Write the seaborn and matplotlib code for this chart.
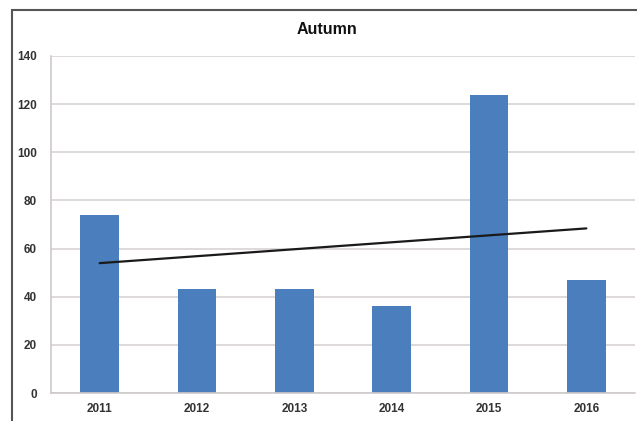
import numpy as np
import matplotlib
matplotlib.use("Agg")
import matplotlib.pyplot as plt
import seaborn as sns
import pandas as pd
from matplotlib.patches import Rectangle
from matplotlib.ticker import FixedLocator

years = ["2011", "2012", "2013", "2014", "2015", "2016"]
autumn = [74, 43, 43, 36, 124, 47]
y_ticks = [0, 20, 40, 60, 80, 100, 120, 140]

sns.set_style("white")
plt.rcParams['font.family'] = ['Liberation Sans', 'DejaVu Sans']

df = pd.DataFrame({"year": years, "value": autumn})

fig = plt.figure(figsize=(6.37, 4.21), dpi=100)
ax = fig.add_axes([51 / 637, 1 - 393 / 421, 584 / 637, 337 / 421])

sns.barplot(data=df, x="year", y="value", color="#4A7EBD", width=0.4,
            saturation=1, linewidth=0, ax=ax, zorder=2)

# linear trend line
pos = np.arange(len(autumn))
slope, intercept = np.polyfit(pos, autumn, 1)
ax.plot(pos, slope * pos + intercept, color="#1a1a1a", lw=1.6, zorder=3)

ax.set_xlim(-0.5, len(years) - 0.5)
ax.set_ylim(0, 140)
ax.set_yticks(y_ticks)
ax.set_xlabel("")
ax.set_ylabel("")
ax.yaxis.grid(True, color="#D8D3D3", lw=1.2, zorder=0)
ax.set_axisbelow(True)

for side in ["top", "right"]:
    ax.spines[side].set_visible(False)
for side in ["left", "bottom"]:
    ax.spines[side].set_color("#CFCACA")
    ax.spines[side].set_linewidth(1.2)

ax.tick_params(axis="y", length=5, color="#CFCACA", labelsize=8.5, pad=5)
ax.tick_params(axis="x", length=0, labelsize=8.5, pad=7)
ax.xaxis.set_minor_locator(FixedLocator(np.arange(0.5, len(years) - 0.5, 1)))
ax.tick_params(axis="x", which="minor", length=5, color="#CFCACA")
for lbl in ax.get_xticklabels() + ax.get_yticklabels():
    lbl.set_fontweight("bold")
    lbl.set_color("#333333")

fig.text(327 / 637, 1 - 30 / 421, "Autumn", ha="center", va="center",
         fontsize=11.5, fontweight="bold", color="#111111")

# outer chart frame
fig.patches.append(Rectangle((12 / 637, -0.1), 1.2, 1 - 10 / 421 + 0.1,
                             transform=fig.transFigure, fill=False,
                             edgecolor="#555555", lw=1.5))

fig.savefig("out.png", dpi=100)
